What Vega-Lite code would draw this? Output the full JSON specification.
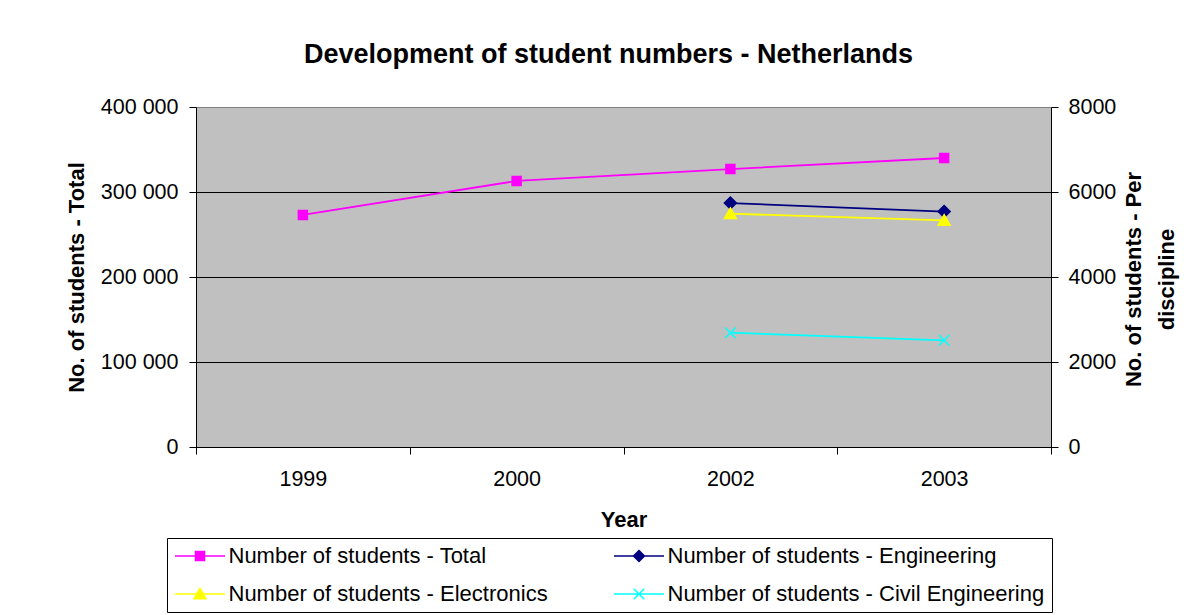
{
  "$schema": "https://vega.github.io/schema/vega-lite/v6.json",
  "width": 855,
  "height": 340,
  "autosize": "none",
  "padding": {"left": 196, "top": 107, "right": 140, "bottom": 168},
  "background": "white",
  "title": {
    "text": "Development of student numbers - Netherlands",
    "font": "Liberation Sans",
    "fontSize": 27,
    "fontWeight": "bold",
    "color": "black",
    "anchor": "middle",
    "dx": -15,
    "offset": 27
  },
  "config": {
    "view": {"fill": "#C0C0C0", "stroke": "#808080", "strokeWidth": 1},
    "axis": {
      "labelFont": "Liberation Sans",
      "labelFontSize": 21.5,
      "labelColor": "black",
      "titleFont": "Liberation Sans",
      "titleFontSize": 22,
      "titleFontWeight": "bold",
      "titleColor": "black",
      "domainColor": "black",
      "domainWidth": 1,
      "tickColor": "black",
      "tickWidth": 1,
      "tickSize": 7
    },
    "legend": {
      "labelFont": "Liberation Sans",
      "labelFontSize": 22,
      "labelColor": "black",
      "labelLimit": 500
    }
  },
  "data": {
    "values": [
      {"year": "1999", "series": "Number of students - Total", "students": 273000},
      {"year": "2000", "series": "Number of students - Total", "students": 313000},
      {"year": "2002", "series": "Number of students - Total", "students": 327000},
      {"year": "2003", "series": "Number of students - Total", "students": 340000},
      {"year": "2002", "series": "Number of students - Engineering", "students": 5740},
      {"year": "2003", "series": "Number of students - Engineering", "students": 5540},
      {"year": "2002", "series": "Number of students - Electronics", "students": 5490},
      {"year": "2003", "series": "Number of students - Electronics", "students": 5330},
      {"year": "2002", "series": "Number of students - Civil Engineering", "students": 2690},
      {"year": "2003", "series": "Number of students - Civil Engineering", "students": 2510}
    ]
  },
  "encoding": {
    "x": {
      "field": "year",
      "type": "ordinal",
      "scale": {"domain": ["1999", "2000", "2002", "2003"], "paddingInner": 0, "paddingOuter": 0},
      "axis": {
        "title": "Year",
        "labelAngle": 0,
        "tickBand": "extent",
        "labelPadding": 14,
        "titlePadding": 20,
        "grid": false
      }
    },
    "color": {
      "field": "series",
      "type": "nominal",
      "scale": {
        "domain": ["Number of students - Total", "Number of students - Engineering", "Number of students - Electronics", "Number of students - Civil Engineering"],
        "range": ["#FF00FF", "#000080", "#FFFF00", "#00FFFF"]
      }
    }
  },
  "layer": [
    {
      "transform": [{"filter": "datum.series == 'Number of students - Total'"}],
      "encoding": {
        "y": {
          "field": "students",
          "type": "quantitative",
          "scale": {"domain": [0, 400000], "nice": false},
          "axis": {
            "title": "No. of students - Total",
            "values": [0, 100000, 200000, 300000, 400000],
            "labelExpr": "replace(format(datum.value, ','), ',', ' ')",
            "labelPadding": 11,
            "titlePadding": 12,
            "grid": true,
            "gridColor": {"condition": {"test": "datum.value == 400000", "value": "#808080"}, "value": "black"},
            "gridWidth": 1
          }
        }
      },
      "layer": [
        {"mark": {"type": "line", "strokeWidth": 1.8}},
        {
          "mark": {"type": "point", "filled": true, "size": 100, "strokeWidth": 1.5, "opacity": 1},
          "encoding": {
            "stroke": {
              "field": "series",
              "type": "nominal",
              "scale": {"range": ["#00FFFF", "#FFFF00", "#000080", "#FF00FF"]},
              "legend": null
            },
            "shape": {
              "field": "series",
              "type": "nominal",
              "scale": {
                "range": ["M-1.05,-1.05L1.05,1.05M-1.05,1.05L1.05,-1.05", "M0,-1.15L1.2,0.95H-1.2Z", "M0,-1.2L1.2,0L0,1.2L-1.2,0Z", "M-0.9,-0.9H0.9V0.9H-0.9Z"]
              },
              "legend": null
            },
            "color": {
              "field": "series",
              "type": "nominal",
              "legend": {
                "title": null,
                "orient": "none",
                "legendX": -29,
                "legendY": 431,
                "direction": "horizontal",
                "columns": 2,
                "columnPadding": 65,
                "rowPadding": 16,
                "padding": 7,
                "strokeColor": "black",
                "fillColor": "white",
                "symbolSize": 2500,
                "clipHeight": 22,
                "labelOffset": 2.5,
                "symbolStrokeWidth": 1.5,
                "symbolOpacity": 1,
                "encode": {
                  "symbols": {
                    "update": {
                      "shape": {"signal": "datum.value == 'Number of students - Total' ? 'M-1,0H1M-0.18,-0.18H0.18V0.18H-0.18Z' : datum.value == 'Number of students - Engineering' ? 'M-1,0H1M0,-0.22L0.22,0L0,0.22L-0.22,0Z' : datum.value == 'Number of students - Electronics' ? 'M-1,0H1M0,-0.23L0.24,0.19H-0.24Z' : 'M-1,0H1M-0.21,-0.21L0.21,0.21M-0.21,0.21L0.21,-0.21'"},
                      "stroke": {"signal": "scale('color', datum.value)"},
                      "size": {"value": 2500}
                    }
                  }
                }
              }
            }
          }
        }
      ]
    },
    {
      "transform": [{"filter": "datum.series != 'Number of students - Total'"}],
      "encoding": {
        "y": {
          "field": "students",
          "type": "quantitative",
          "scale": {"domain": [0, 8000], "nice": false},
          "axis": {
            "orient": "right",
            "title": ["No. of students - Per", "discipline"],
            "titleAngle": 270,
            "titleBaseline": "top",
            "titleAlign": "center",
            "titleLineHeight": 33,
            "titleX": 72,
            "titleY": 172,
            "values": [0, 2000, 4000, 6000, 8000],
            "format": "d",
            "labelPadding": 10,
            "grid": false
          }
        }
      },
      "layer": [
        {"mark": {"type": "line", "strokeWidth": 1.8}},
        {
          "mark": {"type": "point", "filled": true, "size": 100, "strokeWidth": 1.5, "opacity": 1},
          "encoding": {
            "stroke": {"field": "series", "type": "nominal", "legend": null},
            "shape": {"field": "series", "type": "nominal", "legend": null}
          }
        }
      ]
    }
  ],
  "resolve": {"scale": {"y": "independent"}}
}
